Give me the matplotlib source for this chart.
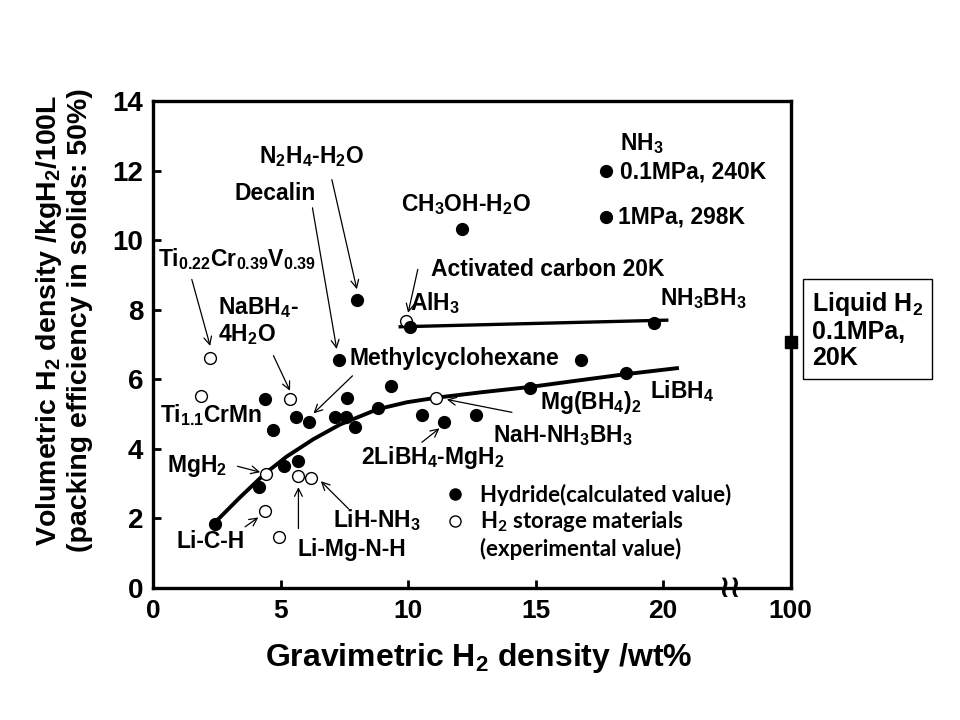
import numpy as np
import matplotlib
matplotlib.use('Agg')
import matplotlib.pyplot as plt
from matplotlib.lines import Line2D

plt.rcParams['font.family'] = ['Liberation Sans', 'DejaVu Sans']
plt.rcParams['font.weight'] = 'bold'
plt.rcParams['axes.labelweight'] = 'bold'
plt.rcParams['mathtext.default'] = 'regular'

# Hydrides (calculated values), filled circles: wt% / kgH2 per 100 L
hyd_x = [2.43, 4.17, 5.15, 5.70, 4.39, 4.72, 5.60, 6.13, 7.29, 7.14, 7.56, 7.62, 7.92,
         8.80, 9.32, 10.56, 11.39, 12.65, 14.78, 16.78, 18.54, 7.99, 10.08, 19.65,
         12.13, 17.74, 17.74]
hyd_y = [1.85, 2.90, 3.50, 3.64, 5.44, 4.53, 4.91, 4.77, 6.55, 4.93, 4.93, 5.46, 4.64,
         5.18, 5.82, 4.98, 4.77, 4.96, 5.74, 6.56, 6.17, 8.27, 7.51, 7.61,
         10.31, 12.00, 10.67]

# H2 storage materials (experimental values), open circles
exp_x = [2.24, 1.87, 5.37, 11.10, 4.42, 5.67, 6.20, 4.40, 4.92, 9.92]
exp_y = [6.60, 5.51, 5.44, 5.45, 3.27, 3.21, 3.16, 2.21, 1.47, 7.68]

# trend curve
curve_x = [2.45, 3.4, 4.39, 5.24, 6.29, 7.33, 8.8, 9.95, 11.1, 12.9, 14.78, 16.7, 18.55, 20.54]
curve_y = [1.90, 2.60, 3.29, 3.78, 4.28, 4.70, 5.14, 5.34, 5.47, 5.63, 5.78, 5.97, 6.15, 6.32]

# upper line (AlH3 - NH3BH3)
line_x = [9.69, 20.14]
line_y = [7.51, 7.70]

# liquid hydrogen (0.1 MPa, 20 K)
liq_x = 100
liq_y = 7.08

x_ticks = [0, 5, 10, 15, 20, 100]
y_ticks = [0, 2, 4, 6, 8, 10, 12, 14]


def brk(v):
    # broken axis: 100 wt% sits at the right edge
    return v if v <= 21 else 25


fig = plt.figure(figsize=(9.6, 7.2), dpi=100)
ax = fig.add_axes([0.1594, 0.1833, 0.6643, 0.6764])

ax.plot(curve_x, curve_y, color='black', lw=2.8, zorder=2, solid_joinstyle='round')
ax.plot(line_x, line_y, color='black', lw=2.4, zorder=2)
ax.plot(exp_x, exp_y, 'o', ms=8.5, mfc='white', mec='black', mew=1.0, zorder=3)
ax.plot(hyd_x, hyd_y, 'o', ms=8.5, color='black', zorder=4)
ax.plot(brk(liq_x), liq_y, 's', ms=8, color='black', clip_on=False, zorder=5)

ax.set_xlim(0, 25)
ax.set_ylim(0, 14)
ax.set_xticks([brk(v) for v in x_ticks])
ax.set_xticklabels([str(v) for v in x_ticks])
ax.set_yticks(y_ticks)
ax.tick_params(axis='x', direction='in', length=6, width=2, labelsize=19, pad=8)
ax.tick_params(axis='y', direction='in', length=6, width=2, labelsize=20, pad=7)
for s in ax.spines.values():
    s.set_linewidth(2.4)

ax.set_xlabel('Gravimetric H$_2$ density /wt%', fontsize=23)
ax.xaxis.set_label_coords(0.51, -0.108)
ax.set_ylabel('Volumetric H$_2$ density /kgH$_2$/100L\n(packing efficiency in solids: 50%)',
              fontsize=20.5, linespacing=1.15)
ax.yaxis.set_label_coords(-0.094, 0.55)

# axis break mark
ax.text(22.6, 0, '\u2240\u2240', family='DejaVu Sans', fontsize=22, ha='center', va='center',
        clip_on=False)

fs = 16.5
labels = [
    ('N$_2$H$_4$-H$_2$O', 6.2, 12.41, 'center'),
    ('Decalin', 4.78, 11.35, 'center'),
    ('CH$_3$OH-H$_2$O', 12.27, 11.03, 'center'),
    ('Ti$_{0.22}$Cr$_{0.39}$V$_{0.39}$', 3.27, 9.46, 'center'),
    ('Activated carbon 20K', 15.49, 9.17, 'center'),
    ('AlH$_3$', 11.06, 8.19, 'center'),
    ('NH$_3$BH$_3$', 21.57, 8.31, 'center'),
    ('NH$_3$', 19.18, 12.78, 'center'),
    ('0.1MPa, 240K', 18.31, 11.95, 'left'),
    ('1MPa, 298K', 18.24, 10.66, 'left'),
    ('NaBH$_4$-\n4H$_2$O', 2.55, 7.68, 'left'),
    ('Methylcyclohexane', 7.69, 6.59, 'left'),
    ('Ti$_{1.1}$CrMn', 2.27, 4.96, 'center'),
    ('MgH$_2$', 1.73, 3.52, 'center'),
    ('Li-C-H', 2.27, 1.35, 'center'),
    ('Li-Mg-N-H', 7.8, 1.12, 'center'),
    ('LiH-NH$_3$', 8.78, 1.95, 'center'),
    ('2LiBH$_4$-MgH$_2$', 10.98, 3.75, 'center'),
    ('NaH-NH$_3$BH$_3$', 16.08, 4.38, 'center'),
    ('Mg(BH$_4$)$_2$', 17.18, 5.33, 'center'),
    ('LiBH$_4$', 20.75, 5.67, 'center'),
]
for txt, x, y, ha in labels:
    ax.text(x, y, txt, fontsize=fs, ha=ha, va='center', linespacing=1.1)

arrows = [
    ((7.01, 11.74), (7.99, 8.59)),
    ((6.25, 10.93), (7.20, 6.87)),
    ((1.52, 8.87), (2.24, 6.96)),
    ((10.38, 9.16), (10.00, 7.91)),
    ((4.72, 6.68), (5.37, 5.67)),
    ((7.82, 6.10), (6.29, 5.02)),
    ((3.31, 3.50), (4.20, 3.33)),
    ((3.61, 1.76), (4.13, 2.03)),
    ((5.70, 1.71), (5.70, 2.90)),
    ((7.66, 2.28), (6.58, 3.07)),
    ((10.54, 4.19), (11.23, 4.59)),
    ((14.07, 5.05), (11.52, 5.42)),
]
for start, end in arrows:
    ax.annotate('', xy=end, xytext=start,
                arrowprops=dict(arrowstyle='->', lw=0.9, color='black',
                                shrinkA=0, shrinkB=0, mutation_scale=14))

# liquid H2 box
ax.text(25.84, 7.42, 'Liquid H$_2$\n0.1MPa,\n20K', fontsize=18, ha='left', va='center',
        linespacing=1.1, clip_on=False,
        bbox=dict(boxstyle='square,pad=0.35', fc='white', ec='black', lw=1.0))

handles = [Line2D([], [], ls='none', marker='o', ms=8, color='black'),
           Line2D([], [], ls='none', marker='o', ms=8, mfc='white', mec='black', mew=1.0),
           Line2D([], [], ls='none')]
leg = ax.legend(handles, ['Hydride(calculated value)', 'H$_2$ storage materials',
                          '(experimental value)'],
                loc='upper left', bbox_to_anchor=(444 / 960, 1 - 484 / 720),
                bbox_transform=fig.transFigure, frameon=False, borderpad=0,
                borderaxespad=0, handlelength=1.0, handletextpad=0.6, labelspacing=0.15,
                prop=dict(family='Lato', weight='bold', size=16))

fig.savefig('out.png', dpi=100)
